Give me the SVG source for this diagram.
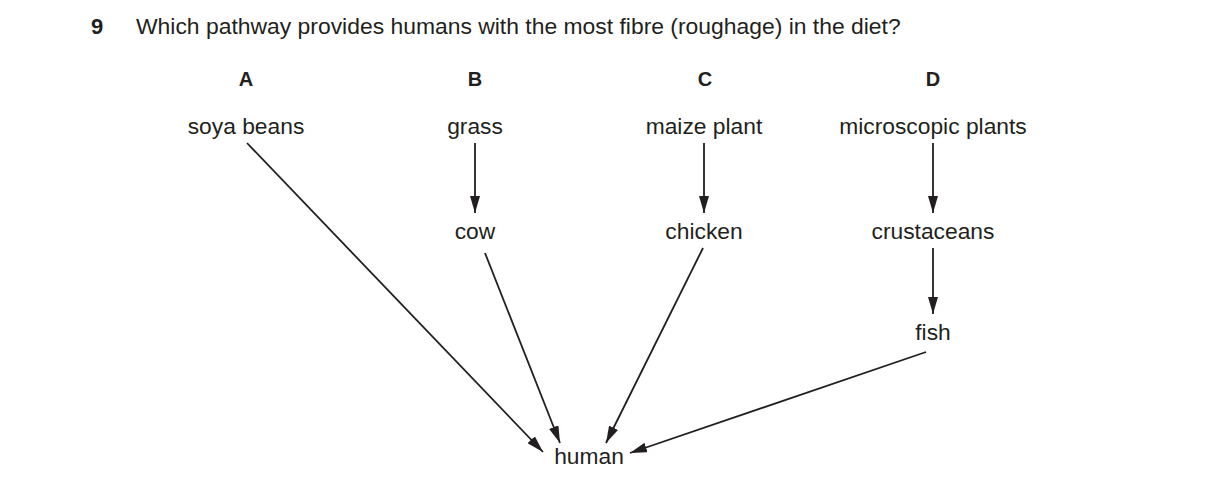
<svg xmlns="http://www.w3.org/2000/svg" width="1216" height="488" viewBox="0 0 1216 488">
<style>
text{font-family:"Liberation Sans",Arial,sans-serif;fill:#231f20}
.t{font-size:22.9px}
.n{font-size:22.8px;text-anchor:middle}
.h{font-size:20px;font-weight:bold;text-anchor:middle}
.q{font-size:22px;font-weight:bold}
.c line{stroke:#231f20;stroke-width:1.8;fill:none}
</style>
<defs>
<marker id="ah" viewBox="0 0 17 10" refX="17" refY="5" markerWidth="17" markerHeight="10" markerUnits="userSpaceOnUse" orient="auto">
<path d="M0,0 L17,5 L0,10 Z" fill="#231f20"/>
</marker>
</defs>
<rect width="1216" height="488" fill="#fff"/>
<g id="question">
<text class="q" x="91" y="34">9</text>
<text class="t" x="136" y="34">Which pathway provides humans with the most fibre (roughage) in the diet?</text>
</g>
<g id="headers">
<text class="h" x="246" y="86">A</text>
<text class="h" x="475" y="86">B</text>
<text class="h" x="705" y="86">C</text>
<text class="h" x="933" y="86">D</text>
</g>
<g id="soya"><text class="n" x="246" y="134">soya beans</text></g>
<g id="grass"><text class="n" x="475" y="134">grass</text></g>
<g id="maize"><text class="n" x="704" y="134">maize plant</text></g>
<g id="micro"><text class="n" x="933" y="134">microscopic plants</text></g>
<g id="cow"><text class="n" x="475" y="239">cow</text></g>
<g id="chicken"><text class="n" x="704" y="239">chicken</text></g>
<g id="crustaceans"><text class="n" x="933" y="239">crustaceans</text></g>
<g id="fish"><text class="n" x="933" y="340">fish</text></g>
<g id="human"><text class="n" x="589" y="464">human</text></g>
<g id="connectors" class="c">
<line x1="475" y1="143" x2="475" y2="213" marker-end="url(#ah)"/>
<line x1="704" y1="143" x2="704" y2="213" marker-end="url(#ah)"/>
<line x1="933" y1="143" x2="933" y2="213" marker-end="url(#ah)"/>
<line x1="933" y1="248" x2="933" y2="314" marker-end="url(#ah)"/>
<line x1="247" y1="143" x2="543" y2="452" marker-end="url(#ah)"/>
<line x1="485" y1="253" x2="560" y2="443" marker-end="url(#ah)"/>
<line x1="703" y1="248" x2="606" y2="443" marker-end="url(#ah)"/>
<line x1="926" y1="352" x2="630" y2="453" marker-end="url(#ah)"/>
</g>
</svg>
